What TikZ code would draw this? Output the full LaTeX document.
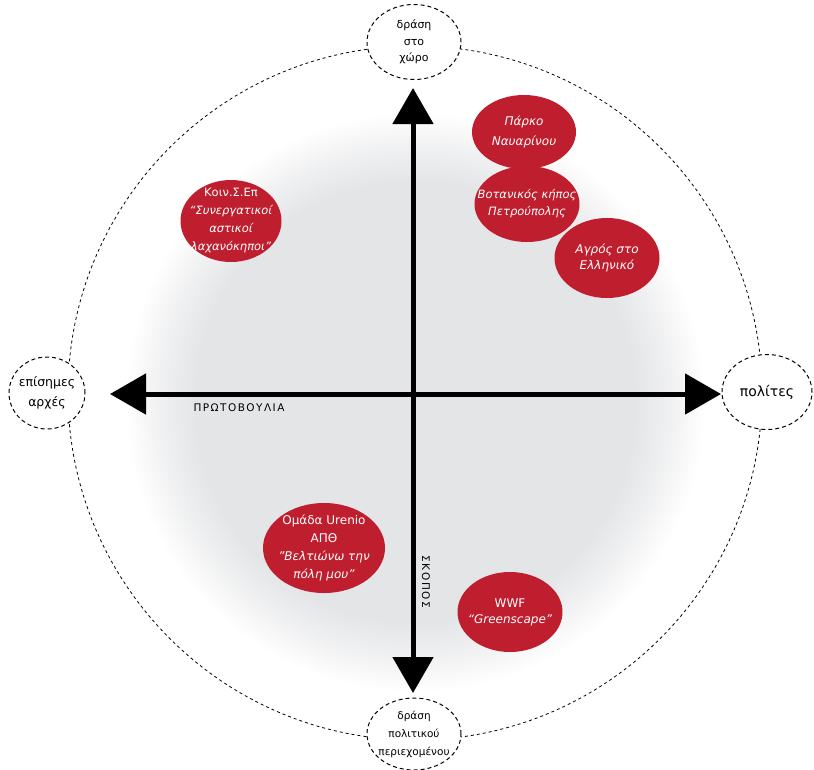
\documentclass[tikz,border=0pt]{standalone}
\usepackage{fontspec}
\setmainfont{DejaVu Sans}
\usetikzlibrary{arrows.meta,shapes.geometric}
\definecolor{redfill}{HTML}{BE1E2D}
\definecolor{shadegray}{HTML}{E4E5E7}
\pgfdeclareradialshading{blob}{\pgfpoint{0bp}{0bp}}{color(0bp)=(shadegray); color(19bp)=(shadegray); color(22bp)=(shadegray!55!white); color(25bp)=(white); color(50bp)=(white)}
\tikzset{
  pole/.style={ellipse, draw, dashed, dash pattern=on 4pt off 3pt, line width=1pt, fill=white, inner sep=0pt},
  poletext/.style={inner sep=0pt, align=center, font=\fontsize{11}{16.5}\selectfont},
  case/.style={ellipse, fill=redfill, inner sep=0pt},
  casetext/.style={inner sep=0pt, text=white, align=center, font=\fontsize{11.5}{17}\selectfont},
  axis/.style={line width=5pt, {Triangle[length=36pt,width=40pt]}-{Triangle[length=36pt,width=40pt]}},
  axlabel/.style={inner sep=0pt}
}
\begin{document}
\begin{tikzpicture}[x=1pt,y=-1pt]
\useasboundingbox (0,0) rectangle (814,769);
\shade[shading=blob] (415,402) circle [radius=290];
\draw[line width=0.8pt, dash pattern=on 3pt off 3pt] (415,393) circle [radius=347];
\coordinate (tt) at (413,88);
\coordinate (tb) at (413,693);
\coordinate (tl) at (110,394);
\coordinate (tr) at (721,394);
\draw[axis] (tt) -- (tb);
\draw[axis] (tl) -- (tr);
% poles
\node[pole, minimum width=94pt, minimum height=75pt] (top) at (414,42) {};
\node[poletext] at (top) {δράση\\στο\\χώρο};
\node[pole, minimum width=76pt, minimum height=72pt] (left) at (47,393) {};
\node[poletext, font=\fontsize{12.5}{20}\selectfont] at (left) {επίσημες\\αρχές};
\node[pole, minimum width=90pt, minimum height=75pt] (right) at (767,392) {};
\node[poletext, font=\fontsize{14}{16}\selectfont] at (right) {πολίτες};
\node[pole, minimum width=94pt, minimum height=72pt] (bottom) at (414,734) {};
\node[poletext, font=\fontsize{10.5}{18}\selectfont] at (bottom) {δράση\\πολιτικού\\περιεχομένου};
% cases
\node[case, minimum width=104pt, minimum height=74pt] (c1) at (524,132) {};
\node[casetext, font=\fontsize{12}{20}\selectfont\itshape] at (c1) {Πάρκο\\Ναυαρίνου};
\node[case, minimum width=105pt, minimum height=76pt] (c2) at (527,204) {};
\node[casetext, font=\fontsize{11.5}{17}\selectfont\itshape] at (c2) {Βοτανικός κήπος\\Πετρούπολης};
\node[case, minimum width=105pt, minimum height=80pt] (c3) at (607,258) {};
\node[casetext, font=\fontsize{12}{16}\selectfont\itshape] at (c3) {Αγρός στο\\Ελληνικό};
\node[case, minimum width=101pt, minimum height=82pt] (c4) at (231,221) {};
\node[casetext, font=\fontsize{11.5}{18}\selectfont] at (c4) {Κοιν.Σ.Επ\\\itshape “Συνεργατικοί\\\itshape αστικοί\\\itshape λαχανόκηποι"};
\node[case, minimum width=122pt, minimum height=90pt] (c5) at (324,548) {};
\node[casetext, font=\fontsize{12}{18}\selectfont] at (c5) {Ομάδα Urenio\\ΑΠΘ\\\itshape "Βελτιώνω την\\\itshape πόλη μου"};
\node[case, minimum width=105pt, minimum height=80pt] (c6) at (510,612) {};
\node[casetext, font=\fontsize{12}{16}\selectfont] at (c6) {WWF\\\itshape “Greenscape"};
% axis labels
\node[axlabel, font=\fontsize{10.5}{12}\selectfont\addfontfeature{LetterSpace=14}] (l1) at (239,408) {ΠΡΩΤΟΒΟΥΛΙΑ};
\node[axlabel, rotate=-90, font=\fontsize{10.5}{12}\selectfont\addfontfeature{LetterSpace=16}] (l2) at (426,582) {ΣΚΟΠΟΣ};
\end{tikzpicture}
\end{document}
